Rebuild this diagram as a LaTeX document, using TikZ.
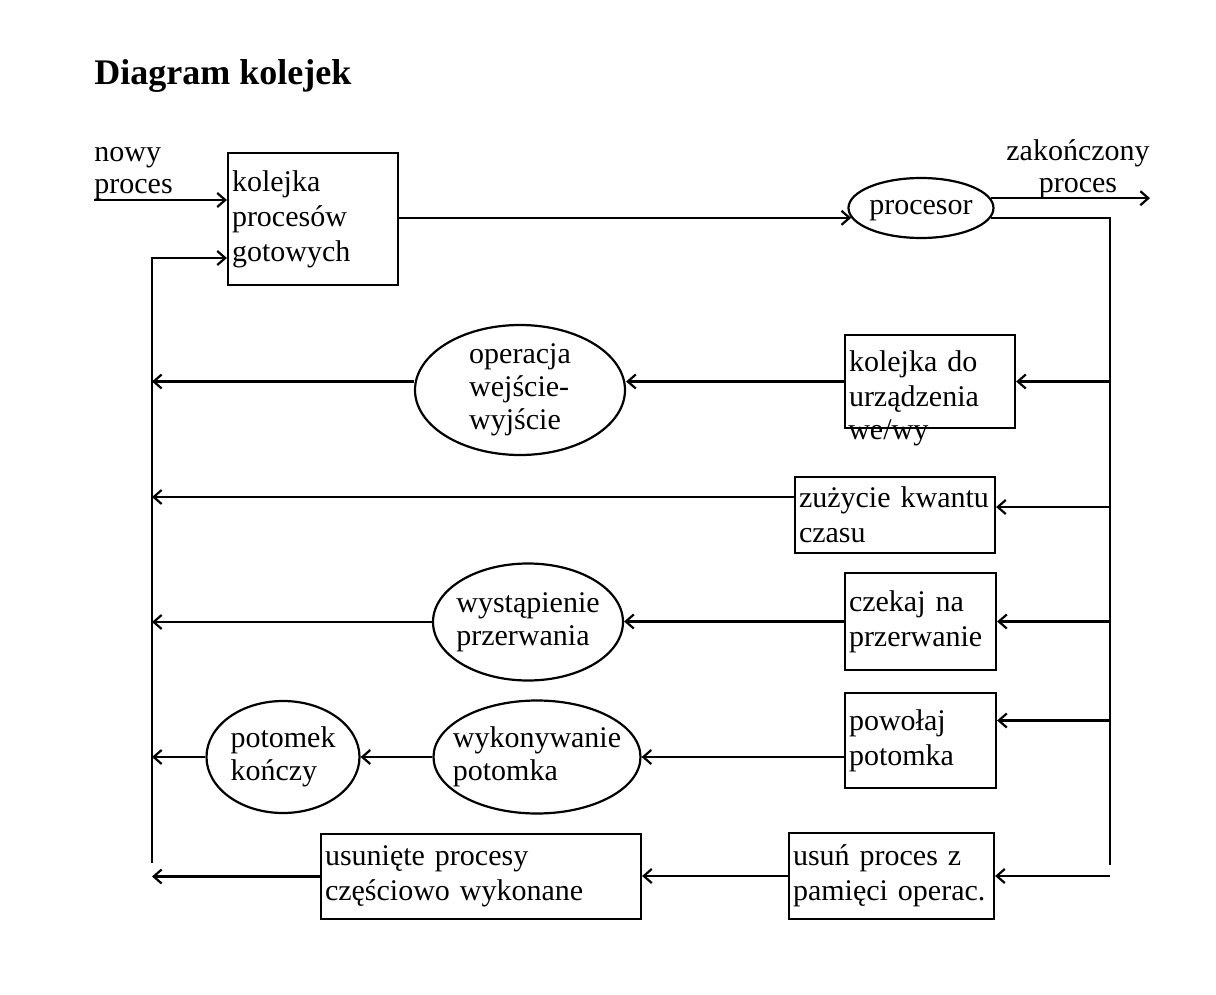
\documentclass[tikz,border=0pt]{standalone}
\usepackage{fontspec}
\setmainfont{Liberation Serif}
\usepackage{tikz}
\usetikzlibrary{shapes, arrows.meta, positioning}
\tikzstyle{box} = [rectangle, draw, line width=1.1pt, align=left, inner sep=2pt, font=\fontsize{15}{17.5}\selectfont]
\tikzstyle{oval} = [ellipse, draw, line width=1.1pt, inner sep=0pt]
\tikzstyle{txt} = [inner sep=0pt, align=left, font=\fontsize{15}{16}\selectfont]
\tikzstyle{line} = [draw, line width=1.1pt]
\tikzstyle{arr} = [draw, line width=1.1pt, -{Straight Barb[length=4pt, width=7pt]}]
\tikzset{every label/.style={align=left, inner sep=0pt, font=\fontsize{15}{16.5}\selectfont}}

\begin{document}
\begin{tikzpicture}[x=0.5pt, y=-0.5pt]
			\useasboundingbox (0,0) rectangle (1216,995);
			\node [anchor=base west, inner sep=0pt, font=\fontsize{18}{20}\selectfont\bfseries] (title) at (94, 85) {Diagram kolejek};
			
			% kolejka i procesor
			\node [box, text width=81pt, minimum height=66pt] (kol) at (313, 219) {kolejka\\procesów\\gotowych};
			\node [oval, minimum width=72.5pt, minimum height=30pt, label={[yshift=-1.5pt]center:procesor}] (proc) at (921, 208) {};
			\node [txt, anchor=south west] (nowy) at (94, 200) {nowy\\proces};
			\node [txt, align=center, anchor=south] (zak) at (1078, 199) {zakończony\\proces};
			
			% prawa kolumna
			\node [box, text width=81pt, minimum height=46.5pt,
				label={[anchor=base west, xshift=2pt, yshift=-5pt]south west:we/wy}] (io) at (930, 381.5) {kolejka do\\urządzenia};
			\node [box, text width=96pt, minimum height=38pt] (kw) at (895, 515) {zużycie kwantu\\czasu};
			\node [box, text width=71.5pt, minimum height=48.5pt] (cz) at (920.5, 621.5) {czekaj na\\przerwanie};
			\node [box, text width=71.5pt, minimum height=47.5pt] (pow) at (920.5, 740.5) {powołaj\\potomka};
			\node [box, text width=98.5pt, minimum height=43pt] (usun) at (891.5, 876) {usuń proces z\\pamięci operac.};
			
			% środek
			\node [oval, minimum width=105pt, minimum height=65pt, label=center:{operacja\\wejście-\\wyjście}] (op) at (520, 390) {};
			\node [oval, minimum width=95pt, minimum height=58.5pt, label=center:{wystąpienie\\przerwania}] (wys) at (528, 622) {};
			\node [oval, minimum width=103.5pt, minimum height=56.5pt, label=center:{wykonywanie\\potomka}] (wyk) at (537, 757) {};
			\node [oval, minimum width=76.5pt, minimum height=56pt, label=center:{potomek\\kończy}] (pot) at (283, 757) {};
			\node [box, text width=156pt, minimum height=42.5pt] (usn) at (481, 876.5) {usunięte procesy\\częściowo wykonane};
			
			% szyny
			\coordinate (start) at (94, 200);
			\coordinate (lt) at (152, 258);
			\coordinate (lb) at (152, 863);
			\coordinate (rt) at (1110, 218);
			\coordinate (rb) at (1110, 865);
			\coordinate (koniec) at (1150, 198);
			
			\path [arr] (start) -- (start -| kol.west);
			\path [arr] (lb) -- (lt) -- (lt -| kol.west);
			\path [arr] (kol.east |- proc.188) -- (proc.188);
			\path [arr] (proc.8) -- (proc.8 -| koniec);
			\path [line] (proc.-8) -- (proc.-8 -| rt) -- (rb);
			
			\path [arr] (rt |- io.east) -- (io.east);
			\path [arr] ([yshift=4pt]rt |- kw.east) -- ([yshift=4pt]kw.east);
			\path [arr] (rt |- cz.east) -- (cz.east);
			\path [arr] ([yshift=10pt]rt |- pow.east) -- ([yshift=10pt]pow.east);
			\path [arr] (rt |- usun.east) -- (usun.east);
			
			\path [arr] (io.west) -- (io.west -| op.east);
			\path [arr] (op.west |- io.west) -- (lt |- io.west);
			\path [arr] ([yshift=9pt]kw.west) -- ([yshift=9pt]kw.west -| lt);
			\path [arr] (cz.west) -- (cz.west -| wys.east);
			\path [arr] (wys.west) -- (wys.west -| lt);
			\path [arr] (pow.west |- wyk.east) -- (wyk.east);
			\path [arr] (wyk.west) -- (pot.east);
			\path [arr] (pot.west) -- (pot.west -| lt);
			\path [arr] (usun.west) -- (usun.west -| usn.east);
			\path [arr] (usn.west) -- (usn.west -| lt);
		\end{tikzpicture}
\end{document}
